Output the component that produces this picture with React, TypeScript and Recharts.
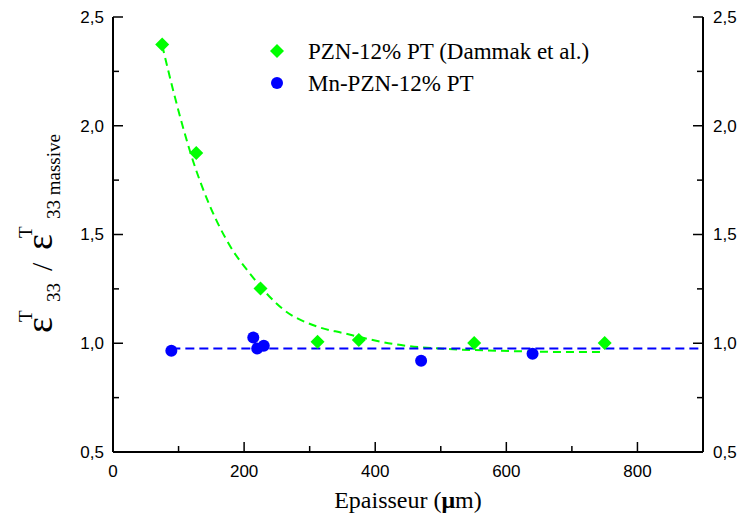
import React from 'react'
import {
  ComposedChart,
  Line,
  Scatter,
  XAxis,
  YAxis,
} from 'recharts'

// PZN-12% PT (Dammak et al.)
const pznThickness = [75, 127, 225, 312, 375, 551, 750]
const pznRatio = [2.373, 1.875, 1.252, 1.007, 1.015, 1.001, 1.001]

// Mn-PZN-12% PT
const mnThickness = [89, 214, 220, 230, 470, 640]
const mnRatio = [0.966, 1.026, 0.976, 0.989, 0.92, 0.952]

// dashed exponential fit
const fitThickness = [75, 92, 108, 123, 148, 179, 209, 260, 311, 351, 433, 509, 585, 686, 750]
const fitRatio = [2.37, 2.16, 1.98, 1.83, 1.63, 1.445, 1.32, 1.155, 1.077, 1.047, 0.994, 0.974, 0.966, 0.96, 0.96]

// flat dashed line through the Mn-PZN points
const flatThickness = [89, 900]
const flatRatio = [0.976, 0.976]

const xTicks = [0, 100, 200, 300, 400, 500, 600, 700, 800, 900]
const xLabels = [0, 200, 400, 600, 800]
const yTicks = [0.5, 0.75, 1, 1.25, 1.5, 1.75, 2, 2.25, 2.5]
const yLabels = [0.5, 1, 1.5, 2, 2.5]

const GREEN = '#00ff00'
const BLUE = '#0000ff'
const SANS = '"Liberation Sans", Arial, sans-serif'
const SERIF = '"Liberation Serif", "Times New Roman", serif'

const toPoints = (xs: number[], ys: number[]) => xs.map((x, i) => ({ x, y: ys[i] }))

const pznData = toPoints(pznThickness, pznRatio)
const mnData = toPoints(mnThickness, mnRatio)
const fitData = toPoints(fitThickness, fitRatio)
const flatData = toPoints(flatThickness, flatRatio)

const fmt = (v: number) => v.toFixed(1).replace('.', ',')

function BottomTick(props: any) {
  const { x, y, payload } = props
  const major = xLabels.includes(payload.value)
  return (
    <g>
      <line x1={x} y1={y} x2={x} y2={y - (major ? 10 : 6)} stroke="#000" strokeWidth={1.5} />
      {major && (
        <text x={x} y={y + 25} textAnchor="middle" fontFamily={SANS} fontSize={17} fill="#000">
          {payload.value}
        </text>
      )}
    </g>
  )
}

function TopTick(props: any) {
  const { x, y, payload } = props
  const major = xLabels.includes(payload.value)
  return <line x1={x} y1={y} x2={x} y2={y + (major ? 10 : 6)} stroke="#000" strokeWidth={1.5} />
}

function LeftTick(props: any) {
  const { x, y, payload } = props
  const major = yLabels.includes(payload.value)
  return (
    <g>
      <line x1={x} y1={y} x2={x + (major ? 10 : 6)} y2={y} stroke="#000" strokeWidth={1.5} />
      {major && (
        <text x={x - 9} y={y} dy="0.35em" textAnchor="end" fontFamily={SANS} fontSize={17} fill="#000">
          {fmt(payload.value)}
        </text>
      )}
    </g>
  )
}

function RightTick(props: any) {
  const { x, y, payload } = props
  const major = yLabels.includes(payload.value)
  return (
    <g>
      <line x1={x} y1={y} x2={x - (major ? 10 : 6)} y2={y} stroke="#000" strokeWidth={1.5} />
      {major && (
        <text x={x + 10} y={y} dy="0.35em" textAnchor="start" fontFamily={SANS} fontSize={17} fill="#000">
          {fmt(payload.value)}
        </text>
      )}
    </g>
  )
}

function Diamond(props: any) {
  const { cx, cy } = props
  const r = 7
  return <path d={`M${cx},${cy - r}L${cx + r},${cy}L${cx},${cy + r}L${cx - r},${cy}Z`} fill={GREEN} />
}

function Dot(props: any) {
  const { cx, cy } = props
  return <circle cx={cx} cy={cy} r={6} fill={BLUE} />
}

function YLabel() {
  return (
    <text transform="translate(52, 333) rotate(-90)" fontFamily={SERIF} fill="#000">
      <tspan x={0} y={0} fontSize={38}>ε</tspan>
      <tspan x={11} y={-20} fontSize={19}>T</tspan>
      <tspan x={31} y={8} fontSize={19}>33</tspan>
      <tspan x={62} y={0} fontSize={30}>/</tspan>
      <tspan x={83} y={0} fontSize={38}>ε</tspan>
      <tspan x={95} y={-20} fontSize={19}>T</tspan>
      <tspan x={114} y={8} fontSize={19}>33 massive</tspan>
    </text>
  )
}

function XLabel(props: any) {
  const { viewBox } = props
  const cx = viewBox.x + viewBox.width / 2
  return (
    <text x={cx} y={508} textAnchor="middle" fontFamily={SERIF} fontSize={24} fill="#000">
      Epaisseur (<tspan fontWeight="bold">μ</tspan>m)
    </text>
  )
}

function LegendBox() {
  const item = { display: 'flex', alignItems: 'center', height: 32 } as const
  return (
    <div
      style={{
        position: 'absolute',
        left: 267,
        top: 35,
        fontFamily: SERIF,
        fontSize: 23,
        color: '#000',
        lineHeight: 1,
        whiteSpace: 'nowrap',
      }}
    >
      <div style={item}>
        <svg width={41} height={20}>
          <path d="M10,3L17,10L10,17L3,10Z" fill={GREEN} />
        </svg>
        <span>PZN-12% PT (Dammak et al.)</span>
      </div>
      <div style={item}>
        <svg width={41} height={20}>
          <circle cx={10} cy={10} r={6} fill={BLUE} />
        </svg>
        <span>Mn-PZN-12% PT</span>
      </div>
    </div>
  )
}

export default function App() {
  return (
    <div style={{ position: 'absolute', left: 0, top: 0, width: 740, height: 518, background: '#fff' }}>
      <ComposedChart width={740} height={518} margin={{ top: 17, right: 0, bottom: 0, left: 0 }}>
        <XAxis
          xAxisId="bottom"
          dataKey="x"
          type="number"
          domain={[0, 900]}
          ticks={xTicks}
          allowDataOverflow
          height={66}
          tickSize={0}
          tickMargin={0}
          tickLine={false}
          tick={BottomTick}
          axisLine={{ stroke: '#000', strokeWidth: 2 }}
          label={{ content: (p: any) => <XLabel {...p} /> }}
        />
        <XAxis
          xAxisId="top"
          orientation="top"
          dataKey="x"
          type="number"
          domain={[0, 900]}
          ticks={xTicks}
          allowDataOverflow
          height={0}
          tickSize={0}
          tickMargin={0}
          tickLine={false}
          tick={TopTick}
          axisLine={{ stroke: '#000', strokeWidth: 2 }}
        />
        <YAxis
          yAxisId="left"
          dataKey="y"
          type="number"
          domain={[0.5, 2.5]}
          ticks={yTicks}
          allowDataOverflow
          width={113}
          tickSize={0}
          tickMargin={0}
          tickLine={false}
          tick={LeftTick}
          axisLine={{ stroke: '#000', strokeWidth: 2 }}
          label={{ content: () => <YLabel /> }}
        />
        <YAxis
          yAxisId="right"
          orientation="right"
          dataKey="y"
          type="number"
          domain={[0.5, 2.5]}
          ticks={yTicks}
          allowDataOverflow
          width={37}
          tickSize={0}
          tickMargin={0}
          tickLine={false}
          tick={RightTick}
          axisLine={{ stroke: '#000', strokeWidth: 2 }}
        />
        <Line
          xAxisId="bottom"
          yAxisId="left"
          data={fitData}
          dataKey="y"
          type="monotone"
          stroke={GREEN}
          strokeWidth={2}
          strokeDasharray="8 5"
          dot={false}
          isAnimationActive={false}
        />
        <Line
          xAxisId="bottom"
          yAxisId="left"
          data={flatData}
          dataKey="y"
          type="linear"
          stroke={BLUE}
          strokeWidth={2}
          strokeDasharray="9 5"
          dot={false}
          isAnimationActive={false}
        />
        <Scatter
          xAxisId="bottom"
          yAxisId="left"
          data={pznData}
          dataKey="y"
          shape={Diamond}
          isAnimationActive={false}
        />
        <Scatter
          xAxisId="bottom"
          yAxisId="left"
          data={mnData}
          dataKey="y"
          shape={Dot}
          isAnimationActive={false}
        />
      </ComposedChart>
      <LegendBox />
    </div>
  )
}
